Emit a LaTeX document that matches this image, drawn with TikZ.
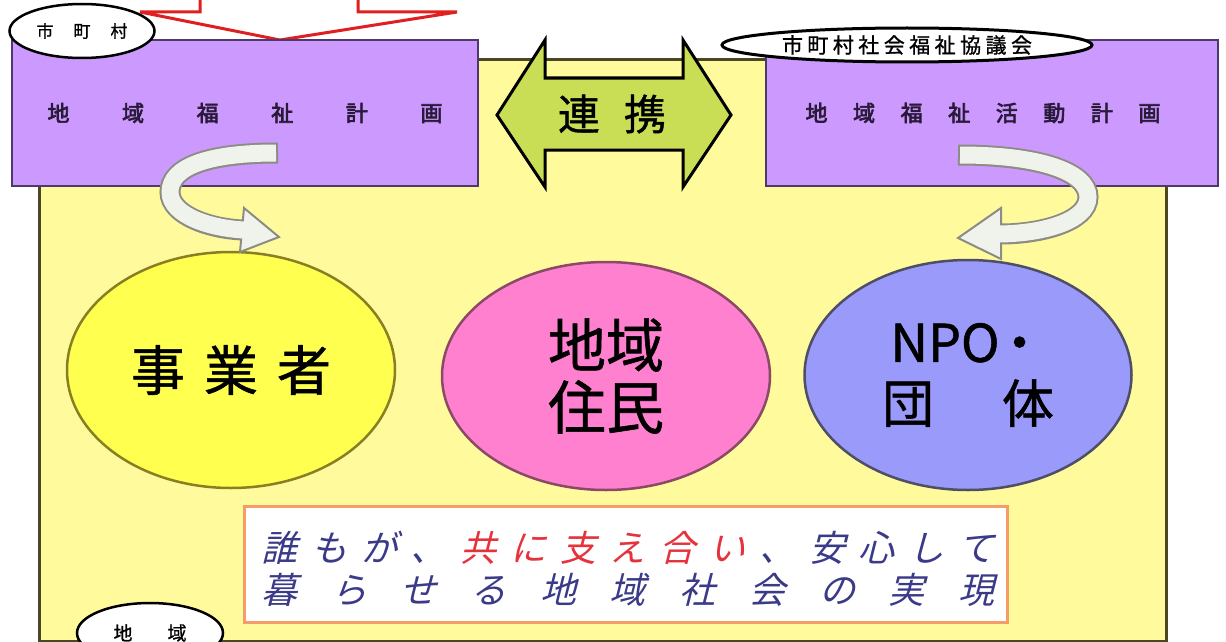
\documentclass[tikz,border=0pt]{standalone}
\usepackage{fontspec}
\usepackage{xcolor}
\usepackage{tikz}
\usetikzlibrary{calc}
\usetikzlibrary{shapes}
\usetikzlibrary{shapes.geometric}
\newfontfamily\jp{Noto Sans CJK JP}
\newfontfamily\jpmid[FakeBold=1]{Noto Sans CJK JP}
\newfontfamily\jpbold[FakeBold=3]{Noto Sans CJK JP}
\newfontfamily\jpslant[FakeSlant=0.25]{Noto Sans CJK JP}
\definecolor{areayellow}{HTML}{FFFB9C}
\definecolor{areaedge}{HTML}{4A4824}
\definecolor{planpurple}{HTML}{CC99FF}
\definecolor{planedge}{HTML}{4E3A6A}
\definecolor{planink}{HTML}{2A1A3A}
\definecolor{linkgreen}{HTML}{C9DE55}
\definecolor{bizyellow}{HTML}{FFFF4F}
\definecolor{bizedge}{HTML}{8A7E22}
\definecolor{respink}{HTML}{FF80CF}
\definecolor{resedge}{HTML}{8A4A66}
\definecolor{npoblue}{HTML}{9A9AFA}
\definecolor{npoedge}{HTML}{4E4E66}
\definecolor{mottoedge}{HTML}{F59C6A}
\definecolor{mottoblue}{HTML}{3A3A88}
\definecolor{mottored}{HTML}{E6323C}
\definecolor{turnedge}{HTML}{8C8C84}
\definecolor{turnfill}{HTML}{F0F2EC}
\definecolor{topred}{HTML}{E02020}
\tikzset{>=latex}
\tikzstyle{planbox} = [rectangle, draw=planedge, line width=2pt, fill=planpurple, inner sep=0pt, text=planink, font=\jpbold\fontsize{22pt}{22pt}\selectfont]
\tikzstyle{tag} = [ellipse, draw=black, line width=2.5pt, fill=white, inner sep=0pt]
\tikzstyle{member} = [ellipse, line width=2.5pt, inner sep=0pt, align=center]

\begin{document}
\begin{tikzpicture}[x=1pt, y=-1pt]
\useasboundingbox (0,0) rectangle (1226,642);
\clip (0,0) rectangle (1226,642);
\fill [white] (0,0) rectangle (1226,642);
\draw [draw=areaedge, line width=3pt, fill=areayellow] (39,60) rectangle (1166,641);
\draw [draw=topred, line width=3pt, fill=white] (200,-5) -- (200,12) -- (140,12) -- (280,40) -- (457,12) -- (358,12) -- (358,-5) -- cycle;

\node [planbox, minimum width=466pt, minimum height=146pt] (cityplan) at (245,113) {\makebox[395pt][s]{地 域 福 祉 計 画}};
\node [planbox, minimum width=452pt, minimum height=146pt] (councilplan) at (992,113) {\hspace{-18pt}\makebox[355pt][s]{地 域 福 祉 活 動 計 画}};

\node [tag, minimum width=145pt, minimum height=54pt, font=\jpmid\fontsize{17pt}{17pt}\selectfont] (citytag) at (82,31) {\makebox[91pt][s]{市 町 村}};
\node [tag, line width=3pt, minimum width=370pt, minimum height=34pt, font=\jpmid\fontsize{21pt}{21pt}\selectfont] (counciltag) at (907,45) {\makebox[250pt][s]{市 町 村 社 会 福 祉 協 議 会}};

\draw [line width=3pt, draw=black, fill=linkgreen] (497,115) -- (545,40) -- (545,78) -- (683,78) -- (683,40) -- (731,115) -- (683,187) -- (683,150) -- (545,150) -- (545,187) -- cycle;
\node [font=\jpmid\fontsize{42pt}{42pt}\selectfont] (renkei) at (612,114) {\makebox[108pt][s]{連 携}};

\node [member, draw=bizedge, fill=bizyellow, minimum width=328pt, minimum height=236pt, font=\jpmid\fontsize{54pt}{54pt}\selectfont] (business) at (231,370) {\makebox[200pt][s]{事 業 者}};
\node [member, draw=resedge, fill=respink, minimum width=328pt, minimum height=228pt, font=\jpmid\fontsize{58pt}{62pt}\selectfont] (residents) at (606,376) {地域\\住民};
\node [member, draw=npoedge, fill=npoblue, minimum width=327pt, minimum height=230pt, font=\jpmid\fontsize{52pt}{61pt}\selectfont] (npo) at (968,375) {NPO\hspace{-6pt}・\\\makebox[172pt][s]{団 体}};

\coordinate (lt) at (278,153);
\coordinate (lh) at (243,230);
\draw [turnedge, line width=21pt] (lt) .. controls (205,153) and (170,168) .. (170,192) .. controls (170,216) and (212,229) .. (lh);
\filldraw [draw=turnedge, fill=turnfill, line width=2pt] (244,208) -- (279,237) -- (240,252) -- cycle;
\draw [turnfill, line width=17pt, shorten <=2pt, shorten >=-4pt] (lt) .. controls (205,153) and (170,168) .. (170,192) .. controls (170,216) and (212,229) .. (lh);

\coordinate (rt) at (958,155);
\coordinate (rh) at (1001,234);
\draw [turnedge, line width=21pt] (rt) .. controls (1040,155) and (1088,172) .. (1088,197) .. controls (1088,222) and (1040,234) .. (rh);
\filldraw [draw=turnedge, fill=turnfill, line width=2pt] (1001,208) -- (958,238) -- (1001,259) -- cycle;
\draw [turnfill, line width=17pt, shorten <=2pt, shorten >=-4pt] (rt) .. controls (1040,155) and (1088,172) .. (1088,197) .. controls (1088,222) and (1040,234) .. (rh);

\node [rectangle, draw=mottoedge, line width=3pt, fill=white, minimum width=763pt, minimum height=116pt] (motto) at (626,564) {};
\node [font=\jpslant\fontsize{36pt}{36pt}\selectfont, text=mottoblue] (mottoa) at (628,548) {\makebox[733pt][s]{誰 も が 、 \textcolor{mottored}{共 に 支 え 合 い} 、 安 心 し て}};
\node [font=\jpslant\fontsize{36pt}{36pt}\selectfont, text=mottoblue] (mottob) at (628,590) {\makebox[733pt][s]{暮 ら せ る 地 域 社 会 の 実 現}};

\node [tag, minimum width=146pt, minimum height=60pt, font=\jpmid\fontsize{19pt}{19pt}\selectfont] (areatag) at (150,633) {\makebox[73pt][s]{地 域}};
\end{tikzpicture}
\end{document}
